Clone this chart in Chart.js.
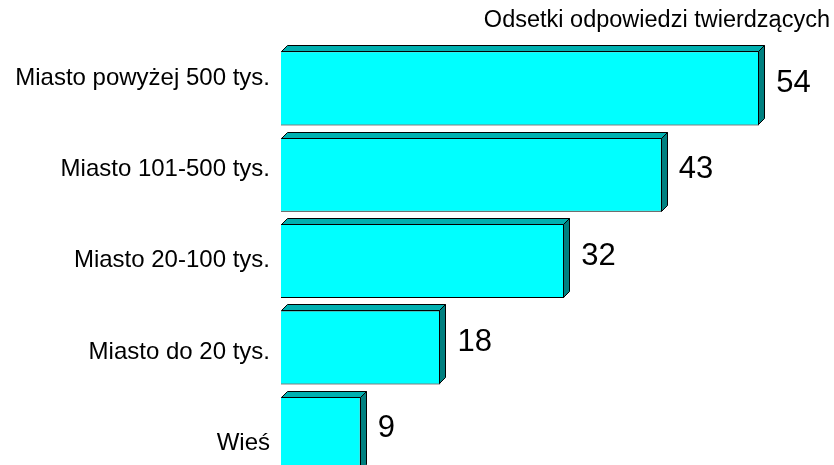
<!DOCTYPE html>
<html>
<head>
<meta charset="utf-8">
<script src="https://cdn.jsdelivr.net/npm/chart.js@4/dist/chart.umd.min.js"></script>
<style>
  html, body { margin: 0; padding: 0; background: #fff; overflow: hidden; }
  #wrap { width: 834px; height: 465px; overflow: hidden; }
</style>
</head>
<body>
<div id="wrap"><canvas id="chart" width="834" height="480"></canvas></div>
<script>
// Dane wykresu
const categories = ["Miasto powyżej 500 tys.", "Miasto 101-500 tys.", "Miasto 20-100 tys.", "Miasto do 20 tys.", "Wieś"];
const values = [54, 43, 32, 18, 9];
const chartTitle = "Odsetki odpowiedzi twierdzących";

const FONT = "'Liberation Sans', Arial, sans-serif";
const DEPTH = 6;

// Efekt 3D słupków + etykiety wartości
const bar3d = {
    id: "bar3d",
    afterDatasetsDraw(chart) {
        const ctx = chart.ctx;
        const meta = chart.getDatasetMeta(0);
        ctx.save();
        ctx.lineWidth = 1;
        ctx.strokeStyle = "#000";
        meta.data.forEach((el, i) => {
            const left = Math.round(el.base) + 0.5;
            const right = Math.round(el.x) - 0.5;
            const top = Math.round(el.y - el.height / 2) + 0.5;
            const bottom = Math.round(el.y + el.height / 2) - 0.5;

            // gorna sciana
            ctx.beginPath();
            ctx.moveTo(left, top);
            ctx.lineTo(left + DEPTH, top - DEPTH);
            ctx.lineTo(right + DEPTH, top - DEPTH);
            ctx.lineTo(right, top);
            ctx.closePath();
            ctx.fillStyle = "#00B0B0";
            ctx.fill();
            ctx.stroke();

            // boczna sciana
            ctx.beginPath();
            ctx.moveTo(right, top);
            ctx.lineTo(right + DEPTH, top - DEPTH);
            ctx.lineTo(right + DEPTH, bottom - DEPTH);
            ctx.lineTo(right, bottom);
            ctx.closePath();
            ctx.fillStyle = "#008080";
            ctx.fill();
            ctx.stroke();

            // wartosc
            ctx.fillStyle = "#000";
            ctx.font = "31px " + FONT;
            ctx.textAlign = "left";
            ctx.textBaseline = "middle";
            ctx.fillText(String(values[i]), el.x + 17, el.y - 5);
        });
        ctx.restore();
    }
};

const ctx = document.getElementById("chart").getContext("2d");
new Chart(ctx, {
    type: "bar",
    data: {
        labels: categories,
        datasets: [{
            data: values,
            backgroundColor: "#00FFFF",
            borderColor: "#000",
            borderWidth: 1,
            barPercentage: 0.857,
            categoryPercentage: 1
        }]
    },
    options: {
        indexAxis: "y",
        responsive: false,
        animation: false,
        layout: { padding: { left: 0, right: 4, top: 0, bottom: 3 } },
        plugins: {
            legend: { display: false },
            tooltip: { enabled: false },
            title: {
                display: true,
                text: chartTitle,
                align: "end",
                color: "#000",
                font: { family: FONT, size: 23.5, weight: "normal", lineHeight: 1.2 },
                padding: { top: 6, bottom: 11 }
            }
        },
        scales: {
            x: { display: false, min: 0, max: 62 },
            y: { display: false },
            // osobna os na etykiety kategorii (inny rozstaw niz slupki)
            yl: {
                type: "linear",
                position: "left",
                reverse: true,
                offset: false,
                bounds: "data",
                min: -0.36,
                max: 4.37,
                grid: { display: false, drawTicks: false },
                border: { display: false },
                afterBuildTicks(scale) {
                    scale.ticks = categories.map((c, i) => ({ value: i }));
                },
                ticks: {
                    autoSkip: false,
                    padding: 11,
                    color: "#000",
                    font: { family: FONT, size: 24 },
                    callback: v => categories[v] !== undefined ? categories[v] : ""
                },
                afterFit(scale) {
                    scale.width = 281;
                    scale.paddingTop = 0;
                    scale.paddingBottom = 0;
                }
            }
        }
    },
    plugins: [bar3d]
});
</script>
</body>
</html>
